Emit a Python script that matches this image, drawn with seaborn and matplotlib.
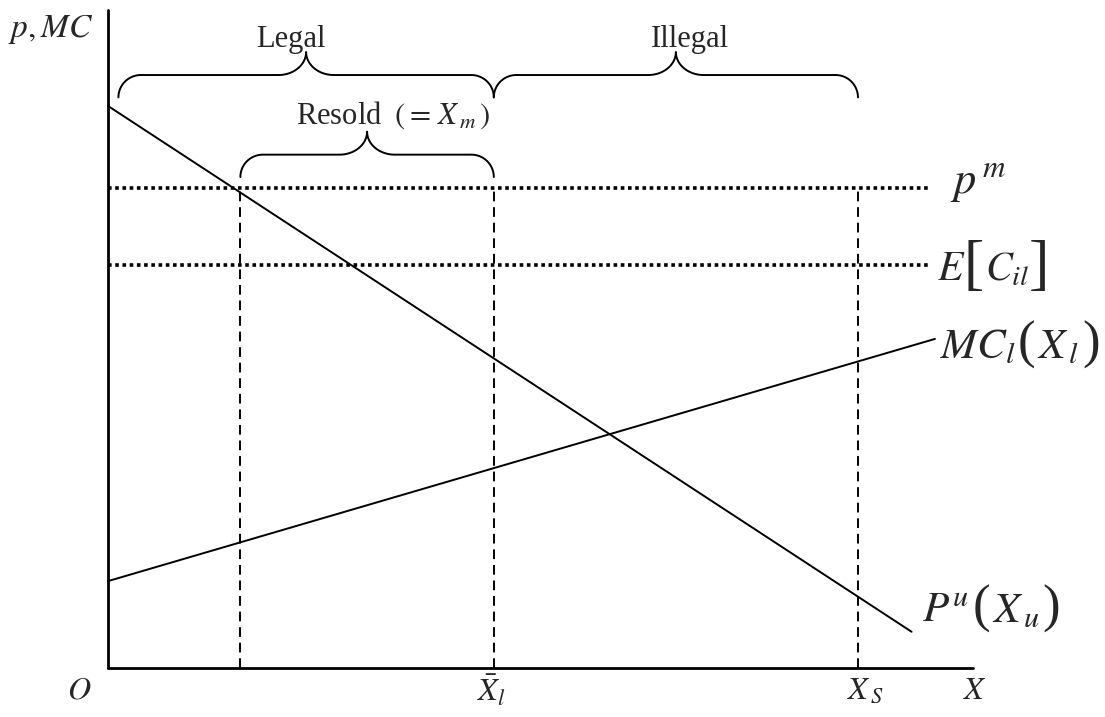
import numpy as np
import matplotlib.pyplot as plt
import seaborn as sns

# curve endpoints (x in 0..100 along the X axis, y in 0..100 along p axis)
demand_x = [0, 92.9]
demand_y = [85.4, 5.5]
mc_x = [0, 95.6]
mc_y = [13.2, 50.0]

# horizontal levels: p^m and E[C_il]
level_values = [72.9, 61.2]
level_end = 94.8

# vertical markers on the X axis
x_resold = 15.3
x_bar_l = 44.6
x_s = 86.7

# braces: Legal, Illegal, Resold
brace_left = [1.2, 44.6, 15.3]
brace_right = [44.6, 86.7, 44.6]
brace_level = [90.1, 90.1, 78.0]

sns.set_theme(style="white")
plt.rcParams['font.family'] = ['Liberation Serif', 'DejaVu Serif']
plt.rcParams['mathtext.fontset'] = 'stix'

fig = plt.figure(figsize=(11.05, 7.17), dpi=100)
ax = fig.add_axes([0, 0, 1, 1])
ax.set_xlim(-12.49, 115.26)
ax.set_ylim(-7.45, 101.5)
ax.axis('off')

lw = 1.4
# axes
ax.plot([0, 0], [0, 100], color='black', lw=2)
ax.plot([0, 100], [0, 0], color='black', lw=2)

sns.lineplot(x=demand_x, y=demand_y, color='black', lw=lw, ax=ax)
sns.lineplot(x=mc_x, y=mc_y, color='black', lw=lw, ax=ax)

for v in level_values:
    sns.lineplot(x=[0, level_end], y=[v, v], color='black', lw=2.6,
                 linestyle=(0, (1, 1)), ax=ax)

for xv in [x_resold, x_bar_l, x_s]:
    ax.plot([xv, xv], [0, level_values[0]], color='black', lw=1.4,
            linestyle=(0, (5, 3)))


def brace(x0, x1, y_line, drop=3.4, rise=3.5, rx_end=2.6, rx_tip=3.2):
    xm = (x0 + x1) / 2
    t = np.linspace(0, np.pi / 2, 30)
    y_end = y_line - drop
    y_tip = y_line + rise
    lx = x0 + rx_end - rx_end * np.cos(t)
    ly = y_end + drop * np.sin(t)
    tx = xm - rx_tip + rx_tip * np.sin(t)
    ty = y_tip - rise * np.cos(t)
    xs = np.concatenate([lx, tx, (2 * xm - tx)[::-1], (2 * xm - lx)[::-1]])
    ys = np.concatenate([ly, ty, ty[::-1], ly[::-1]])
    ax.plot(xs, ys, color='black', lw=1.4)


for x0, x1, yl in zip(brace_left, brace_right, brace_level):
    brace(x0, x1, yl)

ax.text(-6.6, 97, r'$p,MC$', fontsize=24, ha='center', va='center')
ax.text(21.1, 95.5, 'Legal', fontsize=22, ha='center', va='center')
ax.text(67.3, 95.5, 'Illegal', fontsize=22, ha='center', va='center')
ax.text(33.0, 84.0, r'Resold $\;(=\,X_{\,m}\,)$', fontsize=22, ha='center', va='center')

ax.text(97.3, 72.2, r'$p^{\,m}$', fontsize=32, ha='left', va='baseline')

# E[C_il] with tall brackets
ax.text(95.8, 58.9, r'$E$', fontsize=30, ha='left', va='baseline')
ax.text(98.9, 58.5, '[', fontsize=44, ha='left', va='baseline')
ax.text(101.4, 58.9, r'$C_{il}$', fontsize=29, ha='left', va='baseline')
ax.text(106.4, 58.5, ']', fontsize=44, ha='left', va='baseline')

# MC_l(X_l)
ax.text(96.2, 47.1, r'$MC_{l}$', fontsize=31, ha='left', va='baseline')
ax.text(105.2, 47.1, '(', fontsize=38, ha='left', va='baseline')
ax.text(107.4, 47.1, r'$X_{\,l}$', fontsize=31, ha='left', va='baseline')
ax.text(112.6, 47.1, ')', fontsize=38, ha='left', va='baseline')

# P^u(X_u)
ax.text(94.1, 7.0, r'$P^{u}$', fontsize=31, ha='left', va='baseline')
ax.text(100.0, 7.0, '(', fontsize=38, ha='left', va='baseline')
ax.text(102.2, 7.0, r'$X_{\,u}$', fontsize=31, ha='left', va='baseline')
ax.text(108.0, 7.0, ')', fontsize=38, ha='left', va='baseline')

ax.text(-3.3, -3.5, r'$O$', fontsize=23, ha='center', va='center')
ax.text(44.3, -3.5, r'$\bar{X}_{l}$', fontsize=23, ha='center', va='center')
ax.text(87.5, -3.5, r'$X_{\,S}$', fontsize=23, ha='center', va='center')
ax.text(100.2, -3.5, r'$X$', fontsize=23, ha='center', va='center')

fig.savefig('out.png', dpi=100)
